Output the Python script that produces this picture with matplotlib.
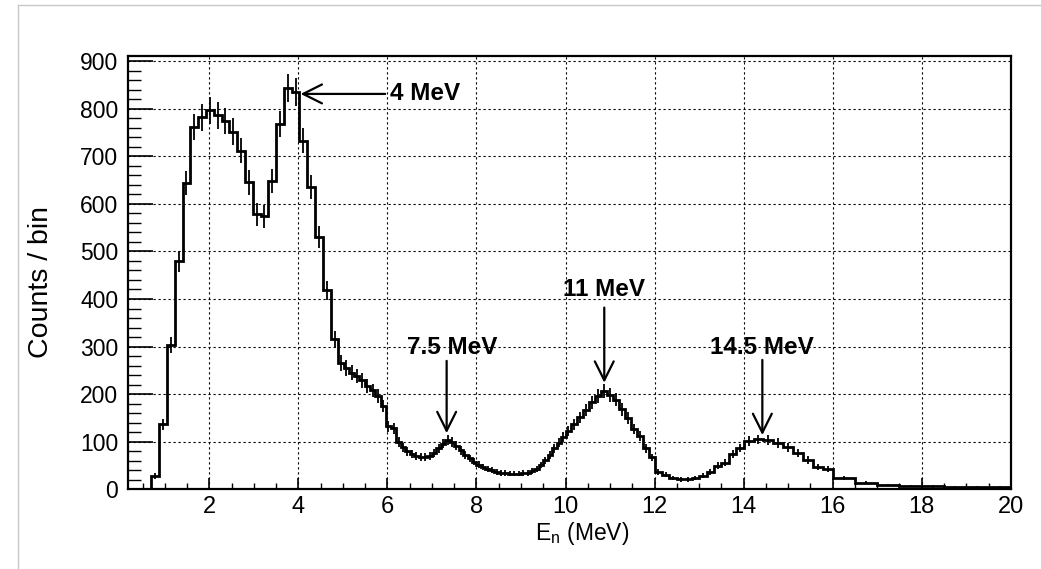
import numpy as np
import matplotlib
matplotlib.use("Agg")
import matplotlib.pyplot as plt
from matplotlib.ticker import MultipleLocator
from matplotlib.lines import Line2D

plt.rcParams['font.family'] = ['Liberation Sans', 'DejaVu Sans']

# Variable-width binning: energy ranges and number of equal bins in each
range_breaks = [0.175, 4.9, 6.2, 10.0, 12.0, 14.0, 16.0, 20.0]
bins_per_range = [27, 11, 38, 15, 12, 9, 8]

# Counts per bin, one list per energy range
counts_low = [0, 0, 0, 28, 137, 303, 479, 643, 761, 782, 797, 786, 774, 752,
              712, 645, 578, 574, 648, 768, 843, 835, 733, 635, 530, 418, 315]
counts_shoulder = [266, 255, 245, 238, 229, 218, 208, 196, 175, 133, 128]
counts_mid = [100, 88, 80, 74, 70, 68, 68, 71, 77, 86, 96, 103, 100, 92, 82,
              73, 65, 58, 52, 47, 43, 40, 37, 35, 34, 33, 33, 33, 34, 35, 38,
              43, 51, 61, 73, 86, 98, 110]
counts_11 = [123, 137, 151, 166, 183, 196, 206, 198, 188, 168, 150, 127, 112,
             86, 67]
counts_valley = [36, 31, 24, 21, 21, 24, 29, 36, 50, 56, 74, 87]
counts_14 = [101, 105, 104, 97, 88, 76, 62, 47, 42]
counts_tail = [24, 14, 9, 7, 6, 5, 4, 4]

# Peak labels: text, arrow tip (E, counts), arrow tail (E, counts)
peak_labels = ["4 MeV", "7.5 MeV", "11 MeV", "14.5 MeV"]
arrow_tips = [(4.05, 831), (7.33, 118), (10.87, 224), (14.42, 114)]
arrow_tails = [(5.95, 831), (7.33, 270), (10.87, 382), (14.42, 272)]
label_pos = [(6.05, 831), (7.45, 298), (10.87, 421), (14.42, 298)]
label_align = ["left", "center", "center", "center"]

edges = [np.array([range_breaks[0]])]
for lo, hi, n in zip(range_breaks[:-1], range_breaks[1:], bins_per_range):
    edges.append(np.linspace(lo, hi, n + 1)[1:])
edges = np.concatenate(edges)
counts = np.array(counts_low + counts_shoulder + counts_mid + counts_11 +
                  counts_valley + counts_14 + counts_tail, dtype=float)
centers = 0.5 * (edges[:-1] + edges[1:])
errors = np.sqrt(counts)

fig = plt.figure(figsize=(10.41, 5.69), dpi=100)
ax = fig.add_axes([0.123, 0.140, 0.848, 0.761])

ax.stairs(counts, edges, baseline=0, color='black', lw=2.0, zorder=3)
ax.vlines(centers, counts - errors, counts + errors, color='black', lw=1.3,
          zorder=3)

ax.set_xlim(0.175, 20)
ax.set_ylim(0, 910)

ax.xaxis.set_major_locator(MultipleLocator(2))
ax.xaxis.set_minor_locator(MultipleLocator(0.5))
ax.yaxis.set_major_locator(MultipleLocator(100))
ax.yaxis.set_minor_locator(MultipleLocator(20))

ax.tick_params(axis='x', which='major', direction='in', length=8, width=1.2,
               labelsize=17, pad=5, top=False)
ax.tick_params(axis='x', which='minor', direction='in', length=4, width=1.0,
               top=False)
ax.tick_params(axis='y', which='major', direction='in', length=18, width=1.2,
               labelsize=16.5, pad=7, right=False)
ax.tick_params(axis='y', which='minor', direction='in', length=9, width=1.0,
               right=False)

ax.grid(True, which='major', color='black', linestyle=(0, (2, 2.5)), lw=0.8)
ax.set_axisbelow(True)
for sp in ax.spines.values():
    sp.set_linewidth(1.6)

ax.set_xlabel(r"E$_{\mathregular{n}}$ (MeV)", fontsize=16.5)
ax.xaxis.label.set(va='center', ha='center')
ax.xaxis.set_label_coords(0.514, -0.102)
ax.set_ylabel("Counts / bin", fontsize=20.5)
ax.yaxis.label.set(va='center', ha='center', rotation_mode='anchor')
ax.yaxis.set_label_coords(-0.0985, 0.478)

for text, tip, tail, pos, ha in zip(peak_labels, arrow_tips, arrow_tails,
                                    label_pos, label_align):
    ax.annotate("", xy=tip, xytext=tail,
                arrowprops=dict(arrowstyle='->', color='black', lw=1.6,
                                mutation_scale=34, shrinkA=0, shrinkB=0),
                zorder=4)
    ax.text(pos[0], pos[1], text, ha=ha, va='center', fontsize=17.5,
            fontweight='bold', zorder=4)

# light outer frame
fig.add_artist(Line2D([18 / 1041, 1.0], [1 - 5 / 569, 1 - 5 / 569],
                      transform=fig.transFigure, color='#c8c8c8', lw=1))
fig.add_artist(Line2D([18 / 1041, 18 / 1041], [0.0, 1 - 5 / 569],
                      transform=fig.transFigure, color='#c8c8c8', lw=1))

fig.savefig("out.png", dpi=100)
